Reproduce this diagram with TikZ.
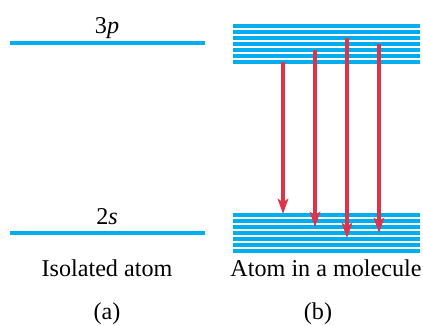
\documentclass[tikz,border=0pt]{standalone}
\usepackage{fontspec}
\setmainfont{Liberation Serif}
\usepackage{tikz}
\usetikzlibrary{arrows.meta}
\definecolor{levelblue}{RGB}{0,174,239}
\definecolor{jumpred}{RGB}{221,52,72}
\tikzset{
  every picture/.style={line join=round, >=Stealth},
  level/.style={levelblue, line width=2.7pt},
  jump/.style={jumpred, line width=2.6pt, -{Stealth[length=13pt,width=9pt,inset=3pt]}},
  lbl/.style={font=\fontsize{20.6}{24}\selectfont, inner sep=0pt, anchor=base},
}

\begin{document}
\begin{tikzpicture}[x=0.03cm,y=-0.03cm]
\useasboundingbox (0,0) rectangle (423,325);
% (a) isolated atom
\draw[level] (10,43) -- (205,43);
\draw[level] (10,233) -- (205,233);
\node[lbl] (p3) at (107,33) {3\textit{p}};
\node[lbl] (s2) at (107,224) {2\textit{s}};
\node[lbl] (iso) at (107,276) {Isolated atom};
\node[lbl] (capa) at (107,319) {(a)};
% (b) atom in a molecule
\foreach \k in {0,...,6}{
  \draw[level] (233,26+6*\k) -- (420,26+6*\k);
  \draw[level] (233,215+6*\k) -- (420,215+6*\k);
}
\coordinate (t1) at (283,62); \coordinate (b1) at (283,214);
\coordinate (t2) at (315,50); \coordinate (b2) at (315,227);
\coordinate (t3) at (347,38); \coordinate (b3) at (347,238);
\coordinate (t4) at (379,44); \coordinate (b4) at (379,233);
\foreach \i in {1,...,4}
  \draw[jump] (t\i) -- (b\i);
\node[lbl] (mol) at (326,276) {Atom in a molecule};
\node[lbl] (capb) at (318,319) {(b)};
\end{tikzpicture}
\end{document}
